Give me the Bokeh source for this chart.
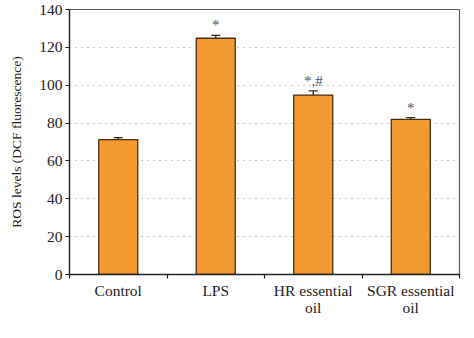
from bokeh.plotting import figure
from bokeh.models import Range1d, FixedTicker, Whisker, TeeHead, ColumnDataSource
from bokeh.core.properties import value
from bokeh.embed import file_html
from bokeh.resources import INLINE

categories = ["Control", "LPS", "HR essential\noil", "SGR essential\noil"]
ros_values = [71.3, 124.8, 94.8, 82.0]
ros_errors = [1.0, 1.5, 2.2, 0.9]
significance = ["", "*", "*,#", "*"]
y_ticks = [0, 20, 40, 60, 80, 100, 120, 140]

FONT = "Liberation Serif"

xs = [i + 0.5 for i in range(len(categories))]
src = ColumnDataSource(dict(
    x=xs,
    top=ros_values,
    upper=[v + e for v, e in zip(ros_values, ros_errors)],
    sig=significance,
))

p = figure(width=474, height=338, output_backend="svg", toolbar_location=None,
           x_range=Range1d(0, len(categories)), y_range=Range1d(0, 140),
           min_border_left=69, min_border_right=15, min_border_top=9,
           min_border_bottom=64)

p.outline_line_color = "#5a5a5a"
p.outline_line_width = 1.2
p.background_fill_color = "white"
p.border_fill_color = "white"

# grid
p.xgrid.grid_line_color = None
p.ygrid.ticker = FixedTicker(ticks=y_ticks[1:-1])
p.ygrid.grid_line_color = "#8a8a8a"
p.ygrid.grid_line_dash = "1 5"
p.ygrid.grid_line_width = 1.2

# bars
p.vbar(x="x", top="top", width=0.4, bottom=0, source=src,
       fill_color="#F39A30", line_color="#4a2e12", line_width=1.3)

# error bars (upper only)
p.add_layout(Whisker(base="x", lower="top", upper="upper", source=src,
                     line_color="#3a2a1a", line_width=1.3,
                     upper_head=TeeHead(size=9, line_color="#3a2a1a", line_width=1.3),
                     lower_head=None))

# significance markers
p.text(x="x", y="upper", text="sig", source=src, text_align="center",
       text_baseline="bottom", y_offset=-2, text_font=value(FONT),
       text_font_size="15px", text_color="#555555")

# x axis: labels centred, ticks at category boundaries
xa = p.xaxis[0]
xa.ticker = FixedTicker(ticks=xs, minor_ticks=list(range(len(categories) + 1)))
xa.major_label_overrides = {x: c for x, c in zip(xs, categories)}
xa.major_tick_line_color = None
xa.minor_tick_out = 4
xa.minor_tick_in = 0
xa.minor_tick_line_color = "#222222"
xa.minor_tick_line_width = 1.2
xa.axis_line_color = "#222222"
xa.axis_line_width = 1.3
xa.major_label_text_font = FONT
xa.major_label_text_font_size = "15.5px"
xa.major_label_text_color = "#222222"
xa.major_label_text_line_height = 1.0
xa.major_label_standoff = 1

# y axis
ya = p.yaxis[0]
ya.ticker = FixedTicker(ticks=y_ticks)
ya.minor_tick_line_color = None
ya.major_tick_out = 4
ya.major_tick_in = 0
ya.major_tick_line_color = "#222222"
ya.axis_line_color = "#222222"
ya.axis_line_width = 1.3
ya.major_label_text_font = FONT
ya.major_label_text_font_size = "15.5px"
ya.major_label_text_color = "#222222"
ya.major_label_standoff = 3
ya.axis_label = "ROS levels (DCF fluorescence)"
ya.axis_label_text_font = FONT
ya.axis_label_text_font_size = "13.5px"
ya.axis_label_text_font_style = "normal"
ya.axis_label_text_color = "#222222"
ya.axis_label_standoff = 12

open("out.html", "w").write(file_html(p, INLINE))
